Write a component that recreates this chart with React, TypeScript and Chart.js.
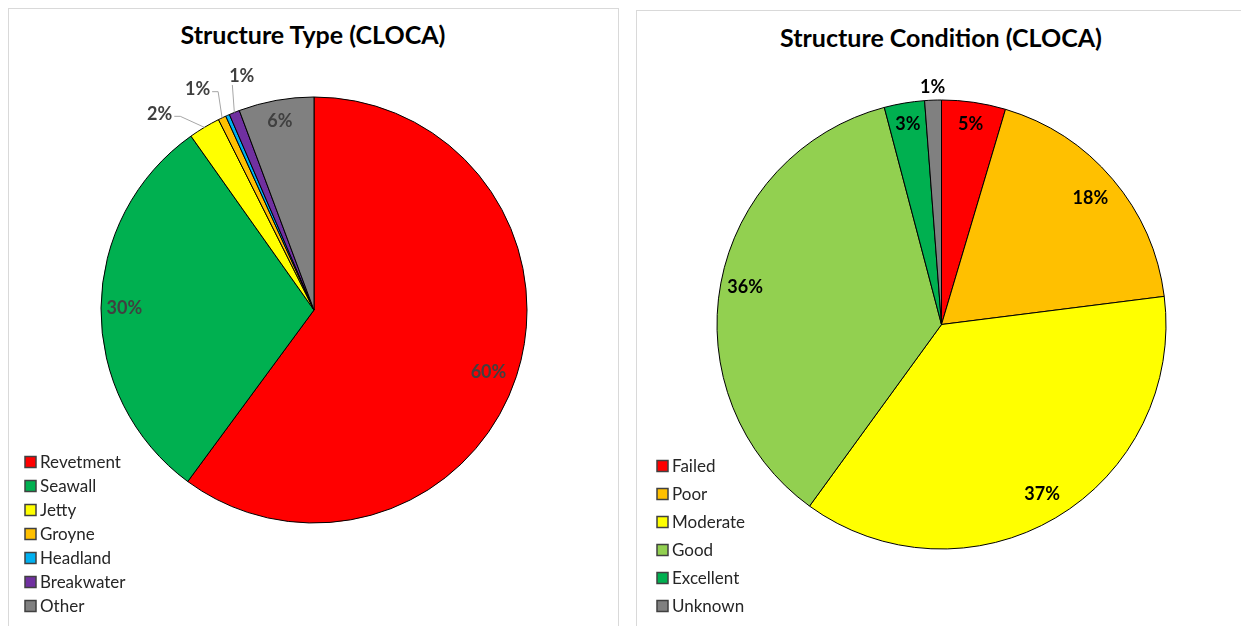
import React, { useEffect, useRef } from "react";
import { Chart, registerables } from "chart.js";

Chart.register(...registerables);

// ---- Data ----
const typeTitle = "Structure Type (CLOCA)";
const typeCategories = ["Revetment", "Seawall", "Jetty", "Groyne", "Headland", "Breakwater", "Other"];
const typeValues = [60.1, 30.1, 2.4, 0.6, 0.3, 0.8, 5.7];
const typeColors = ["#FF0000", "#00B050", "#FFFF00", "#FFC000", "#00B0F0", "#7030A0", "#808080"];

const conditionTitle = "Structure Condition (CLOCA)";
const conditionCategories = ["Failed", "Poor", "Moderate", "Good", "Excellent", "Unknown"];
const conditionValues = [4.6, 18.4, 37.0, 35.9, 2.9, 1.2];
const conditionColors = ["#FF0000", "#FFC000", "#FFFF00", "#92D050", "#00B050", "#808080"];

// label placement styles (radius factor, angular shift in degrees, leader line)
type Placement = { rf: number; shift?: number; leader?: boolean };
const typeLabelPlacement: Placement[] = [
  { rf: 0.87, shift: 1.5 },
  { rf: 0.89 },
  { rf: 1.17, shift: -7.3, leader: true },
  { rf: 1.17, shift: -2.3, leader: true },
  { rf: 1.17, leader: true },
  { rf: 1.15, shift: 4.8, leader: true },
  { rf: 0.9 },
];
const conditionLabelPlacement: Placement[] = [
  { rf: 0.9 },
  { rf: 0.87 },
  { rf: 0.88 },
  { rf: 0.89 },
  { rf: 0.905 },
  { rf: 1.06 },
];

const FONT = "Lato, 'Noto Sans', sans-serif";

function makeLabelPlugin(values: number[], placement: Placement[], color: string) {
  return {
    id: "sliceLabels",
    afterDatasetsDraw(chart: any) {
      const ctx = chart.ctx as CanvasRenderingContext2D;
      const meta = chart.getDatasetMeta(0);
      const total = values.reduce((a, b) => a + b, 0);
      ctx.save();
      ctx.font = `bold 18px ${FONT}`;
      ctx.textAlign = "center";
      ctx.textBaseline = "middle";
      meta.data.forEach((arc: any, i: number) => {
        const p = arc.getProps(["x", "y", "startAngle", "endAngle", "outerRadius"], true);
        const pct = Math.round((values[i] / total) * 100);
        if (pct === 0) return;
        const cfg = placement[i];
        const mid = (p.startAngle + p.endAngle) / 2;
        const ang = mid + ((cfg.shift || 0) * Math.PI) / 180;
        const lx = p.x + Math.cos(ang) * p.outerRadius * cfg.rf;
        const ly = p.y + Math.sin(ang) * p.outerRadius * cfg.rf;
        const text = pct + "%";
        if (cfg.leader) {
          const w = ctx.measureText(text).width;
          const left = lx - w / 2 - 2;
          const right = lx + w / 2 + 2;
          const bottom = ly + 9;
          const tx = p.x + Math.cos(mid) * p.outerRadius;
          const ty = p.y + Math.sin(mid) * p.outerRadius;
          ctx.strokeStyle = "#A6A6A6";
          ctx.lineWidth = 1;
          ctx.beginPath();
          if (tx > right) {
            ctx.moveTo(right, ly + 2);
            ctx.lineTo(right + 6, ly + 2);
          } else if (tx < left) {
            ctx.moveTo(left, ly + 2);
            ctx.lineTo(left - 6, ly + 2);
          } else {
            ctx.moveTo(tx - 2, bottom);
          }
          ctx.lineTo(tx, ty);
          ctx.stroke();
        }
        ctx.fillStyle = color;
        ctx.fillText(text, lx, ly);
      });
      ctx.restore();
    },
  };
}

function makeLegendPlugin(categories: string[], colors: string[], x: number, y: number, step: number) {
  return {
    id: "boxLegend",
    afterDraw(chart: any) {
      const ctx = chart.ctx as CanvasRenderingContext2D;
      ctx.save();
      ctx.font = `17px ${FONT}`;
      ctx.textAlign = "left";
      ctx.textBaseline = "middle";
      categories.forEach((c, i) => {
        const cy = y + i * step;
        ctx.fillStyle = colors[i];
        ctx.fillRect(x, cy - 5.5, 11, 11);
        ctx.strokeStyle = "#404040";
        ctx.lineWidth = 1.5;
        ctx.strokeRect(x, cy - 5.5, 11, 11);
        ctx.fillStyle = "#262626";
        ctx.fillText(c, x + 15, cy + 1);
      });
      ctx.restore();
    },
  };
}

type PieProps = {
  categories: string[];
  values: number[];
  colors: string[];
  placement: Placement[];
  labelColor: string;
  radius: number;
  padding: { left: number; right: number; top: number; bottom: number };
  legend: { x: number; y: number; step: number };
  width: number;
  height: number;
  left: number;
  top: number;
};

function Pie(props: PieProps) {
  const ref = useRef<HTMLCanvasElement | null>(null);
  useEffect(() => {
    if (!ref.current) return;
    const chart = new Chart(ref.current, {
      type: "pie",
      data: {
        labels: props.categories,
        datasets: [
          {
            data: props.values,
            backgroundColor: props.colors,
            borderColor: "#000000",
            borderWidth: 1,
            radius: props.radius,
          } as any,
        ],
      },
      options: {
        animation: false,
        responsive: false,
        devicePixelRatio: 1,
        radius: props.radius,
        layout: { padding: props.padding },
        plugins: {
          legend: { display: false },
          tooltip: { enabled: false },
          title: { display: false },
        },
      } as any,
      plugins: [
        makeLabelPlugin(props.values, props.placement, props.labelColor),
        makeLegendPlugin(props.categories, props.colors, props.legend.x, props.legend.y, props.legend.step),
      ],
    });
    return () => chart.destroy();
  }, []);
  return (
    <canvas
      ref={ref}
      width={props.width}
      height={props.height}
      style={{ position: "absolute", left: props.left, top: props.top, width: props.width, height: props.height }}
    />
  );
}

const titleStyle: React.CSSProperties = {
  position: "absolute",
  fontFamily: FONT,
  fontWeight: 700,
  fontSize: 25,
  color: "#000",
  textAlign: "center",
  lineHeight: "30px",
  whiteSpace: "nowrap",
};

export default function App() {
  return (
    <div
      style={{
        position: "fixed",
        left: 0,
        top: 0,
        width: 1241,
        height: 626,
        overflow: "hidden",
        background: "#fff",
      }}
    >
      <div style={{ position: "absolute", left: 8, top: 8, width: 611, height: 640, border: "1px solid #D9D9D9", boxSizing: "border-box" }} />
      <div style={{ position: "absolute", left: 636, top: 10, width: 640, height: 640, border: "1px solid #D9D9D9", boxSizing: "border-box" }} />
      <div style={{ ...titleStyle, left: 113, width: 400, top: 19 }}>{typeTitle}</div>
      <div style={{ ...titleStyle, left: 741, width: 400, top: 22 }}>{conditionTitle}</div>
      <Pie
        categories={typeCategories}
        values={typeValues}
        colors={typeColors}
        placement={typeLabelPlacement}
        labelColor="#404040"
        radius={213}
        padding={{ left: 0, right: 0, top: 0, bottom: 6 }}
        legend={{ x: 25, y: 462, step: 24 }}
        width={628}
        height={626}
        left={0}
        top={0}
      />
      <Pie
        categories={conditionCategories}
        values={conditionValues}
        colors={conditionColors}
        placement={conditionLabelPlacement}
        labelColor="#000000"
        radius={224.5}
        padding={{ left: 14, right: 0, top: 23, bottom: 0 }}
        legend={{ x: 29, y: 466, step: 28 }}
        width={613}
        height={626}
        left={628}
        top={0}
      />
    </div>
  );
}
